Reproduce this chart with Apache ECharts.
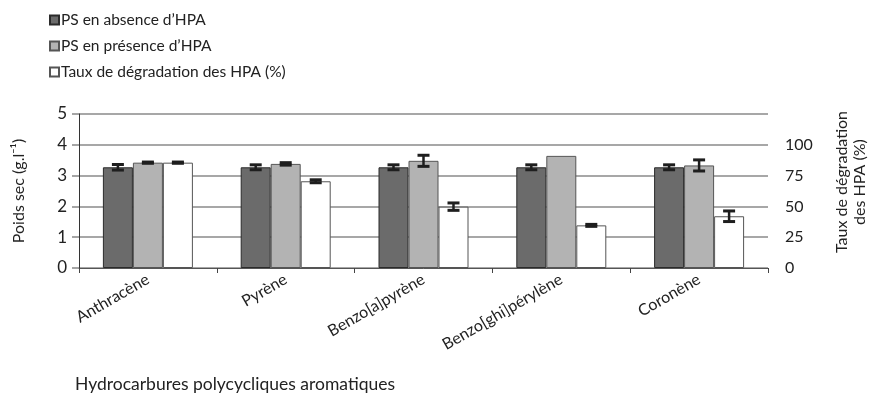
<!DOCTYPE html>
<html>
<head>
<meta charset="utf-8">
<script src="https://cdn.jsdelivr.net/npm/echarts@6/dist/echarts.min.js"></script>
<style>
html,body{margin:0;padding:0;background:#fff;}
#chart{width:873px;height:409px;}
</style>
</head>
<body>
<div id="chart"></div>
<script>
// categories
var categories = ['Anthracène', 'Pyrène', 'Benzo[a]pyrène', 'Benzo[ghi]pérylène', 'Coronène'];
// poids sec en absence / présence d'HPA (g/l)
var psAbsence = [3.27, 3.27, 3.27, 3.27, 3.27];
var psAbsenceErr = [0.09, 0.08, 0.08, 0.08, 0.08];
var psPresence = [3.42, 3.38, 3.48, 3.64, 3.33];
var psPresenceErr = [0.02, 0.04, 0.18, null, 0.18];
// taux de dégradation (%)
var taux = [85.5, 70.4, 49.8, 34.6, 42];
var tauxErr = [0.5, 1.2, 3, 0.8, 4.3];
var leftTicks = [0, 1, 2, 3, 4, 5];
var rightTicks = [0, 25, 50, 75, 100];

var FONT = 'Lato, "DejaVu Sans", sans-serif';
var barW = 30;

function errSeries(name, vals, errs, axis, k) {
    var data = [];
    for (var i = 0; i < vals.length; i++) {
        if (errs[i] != null) data.push([i, vals[i], errs[i]]);
    }
    return {
        name: name,
        type: 'custom',
        yAxisIndex: axis,
        z: 5,
        silent: true,
        data: data,
        renderItem: function(params, api) {
            var c = api.value(0), v = api.value(1), e = api.value(2);
            var x = api.coord([c, v])[0] + k * barW;
            var hi = api.coord([c, v + e])[1];
            var lo = api.coord([c, v - e])[1];
            var cap = 6;
            var st = {stroke: '#1e1e1e', lineWidth: 3};
            return {
                type: 'group',
                children: [
                    {type: 'line', shape: {x1: x, y1: hi, x2: x, y2: lo}, style: {stroke: '#1e1e1e', lineWidth: 2.5}},
                    {type: 'line', shape: {x1: x - cap, y1: hi, x2: x + cap, y2: hi}, style: st},
                    {type: 'line', shape: {x1: x - cap, y1: lo, x2: x + cap, y2: lo}, style: st}
                ]
            };
        }
    };
}

var myChart = echarts.init(document.getElementById('chart'));
var option = {
    animation: false,
    backgroundColor: '#fff',
    legend: {
        orient: 'vertical',
        left: 44,
        top: 7,
        itemWidth: 9,
        itemHeight: 9,
        itemGap: 10,
        icon: 'rect',
        textStyle: {fontFamily: FONT, fontSize: 15.5, color: '#222', padding: [0, 0, 0, -3]},
        data: ['PS en absence d\u2019HPA', 'PS en présence d\u2019HPA', 'Taux de dégradation des HPA (%)']
    },
    grid: {left: 79, right: 105, top: 114, bottom: 141},
    xAxis: {
        type: 'category',
        data: categories,
        axisLine: {lineStyle: {color: '#555', width: 1}},
        axisTick: {show: true, length: 5, lineStyle: {color: '#444'}},
        axisLabel: {rotate: 30, fontFamily: FONT, fontSize: 16, color: '#222', margin: 10}
    },
    yAxis: [
        {
            type: 'value',
            min: leftTicks[0],
            max: leftTicks[leftTicks.length - 1],
            interval: 1,
            name: 'Poids sec (g.l\u207B\u00B9)',
            nameLocation: 'middle',
            nameRotate: 90,
            nameGap: 52,
            nameTextStyle: {fontFamily: FONT, fontSize: 16, color: '#222'},
            axisLine: {show: true, lineStyle: {color: '#333', width: 1}},
            axisTick: {show: true, length: 7, lineStyle: {color: '#888', width: 1.5}},
            axisLabel: {fontFamily: FONT, fontSize: 17, color: '#222', margin: 12},
            splitLine: {show: true, lineStyle: {color: '#8a8a8a', width: 1.5}}
        },
        {
            type: 'value',
            min: 0,
            max: 125,
            interval: 25,
            axisLine: {show: false},
            axisTick: {show: false},
            splitLine: {show: false},
            axisLabel: {
                fontFamily: FONT, fontSize: 16, color: '#222', margin: 17,
                formatter: function(v) { return rightTicks.indexOf(v) >= 0 ? v : ''; }
            }
        }
    ],
    series: [
        {
            name: 'PS en absence d\u2019HPA',
            type: 'bar',
            yAxisIndex: 0,
            data: psAbsence,
            barWidth: barW,
            barGap: '0%',
            itemStyle: {color: '#6b6b6b', borderColor: '#2b2b2b', borderWidth: 1}
        },
        {
            name: 'PS en présence d\u2019HPA',
            type: 'bar',
            yAxisIndex: 0,
            data: psPresence,
            barWidth: barW,
            barGap: '0%',
            itemStyle: {color: '#b3b3b3', borderColor: '#555', borderWidth: 1}
        },
        {
            name: 'Taux de dégradation des HPA (%)',
            type: 'bar',
            yAxisIndex: 1,
            data: taux,
            barWidth: barW,
            barGap: '0%',
            itemStyle: {color: '#ffffff', borderColor: '#555', borderWidth: 1}
        },
        errSeries('errA', psAbsence, psAbsenceErr, 0, -1),
        errSeries('errP', psPresence, psPresenceErr, 0, 0),
        errSeries('errT', taux, tauxErr, 1, 1)
    ],
    graphic: [
        {
            type: 'text',
            left: 75,
            top: 375,
            style: {text: 'Hydrocarbures polycycliques aromatiques', font: '17.5px ' + FONT, fill: '#222'}
        },
        {
            type: 'text',
            x: 851,
            y: 182,
            rotation: Math.PI / 2,
            style: {
                text: 'Taux de dégradation\ndes HPA (%)',
                font: '16px ' + FONT,
                lineHeight: 18,
                fill: '#222',
                align: 'center',
                verticalAlign: 'middle'
            }
        }
    ]
};
myChart.setOption(option);
</script>
</body>
</html>
